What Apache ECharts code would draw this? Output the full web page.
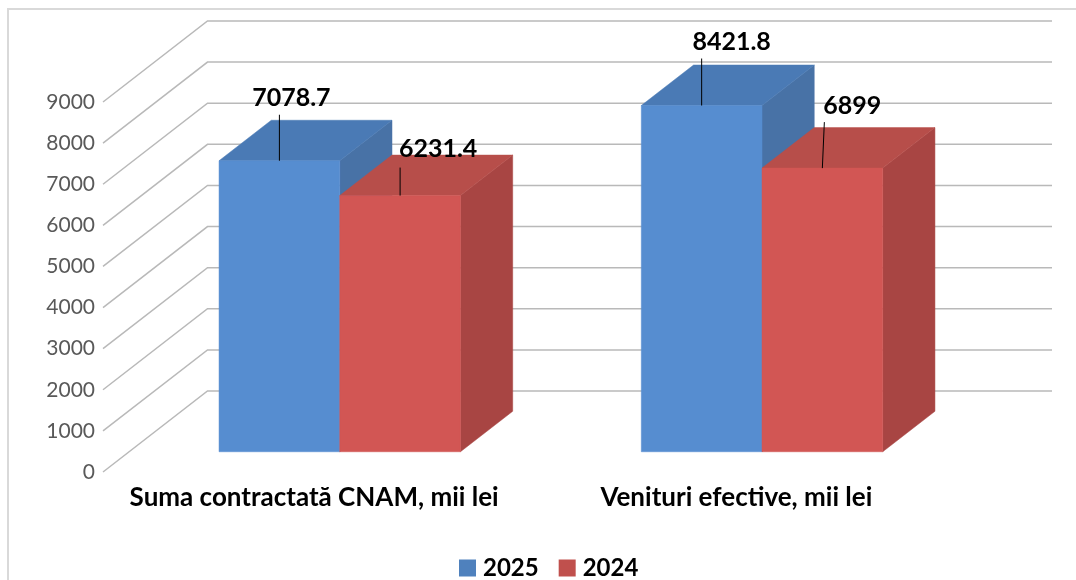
<!DOCTYPE html>
<html>
<head>
<meta charset="utf-8">
<style>
  html, body { margin: 0; padding: 0; background: #fff; }
  #chart { width: 1076px; height: 580px; }
</style>
<script src="https://cdn.jsdelivr.net/npm/echarts@6/dist/echarts.min.js"></script>
</head>
<body>
<div id="chart"></div>
<script>
const categories = ["Suma contractată CNAM, mii lei", "Venituri efective, mii lei"];
const seriesNames = ["2025", "2024"];
const values2025 = [7078.7, 8421.8];
const values2024 = [6231.4, 6899];
const gridValues = [0, 1000, 2000, 3000, 4000, 5000, 6000, 7000, 8000, 9000];

const font = "Lato, Carlito, sans-serif";

// depth of the floor, the bars stand in the middle half of it
const wallDx = 104.5;
const wallDy = -81;
const barW = 120.7;
const depthDx = wallDx / 2;
const depthDy = wallDy / 2;

const blue = { legend: "#4f81bd", front: "#568dd0", top: "#4a7ab5", side: "#4872a6" };
const red = { legend: "#c0504d", front: "#d25654", top: "#b74e4a", side: "#a84543" };

// label centre and leader line top, relative to the bar's front top centre
const labelPos2025 = [
  { dx: 12, dy: -63, lineDx: 0, lineDy: -46 },
  { dx: 30, dy: -64, lineDx: 0, lineDy: -47 },
];
const labelPos2024 = [
  { dx: 38, dy: -47, lineDx: 0, lineDy: -28 },
  { dx: 30, dy: -62, lineDx: 2, lineDy: -46 },
];

function poly(points, fill) {
  // thin stroke in the same colour closes the seams between faces
  return { type: "polygon", shape: { points }, style: { fill, stroke: fill, lineWidth: 0.5 } };
}

function barRenderer(colors, side, labelPos) {
  return (params, api) => {
    const c = api.coord([api.value(0), 0]);
    const t = api.coord([api.value(0), api.value(1)]);
    // front face sits a quarter of the way into the floor
    const x0 = c[0] + wallDx / 4 - 0.5 + (side < 0 ? -barW : 0);
    const x1 = x0 + barW;
    const y0 = c[1] + wallDy / 4;
    const y1 = t[1] + wallDy / 4;
    const cx = (x0 + x1) / 2;
    const pos = labelPos[params.dataIndex];
    return {
      type: "group",
      children: [
        poly([[x1, y0], [x1 + depthDx, y0 + depthDy], [x1 + depthDx, y1 + depthDy], [x1, y1]], colors.side),
        poly([[x0, y1], [x1, y1], [x1 + depthDx, y1 + depthDy], [x0 + depthDx, y1 + depthDy]], colors.top),
        poly([[x0, y0], [x1, y0], [x1, y1], [x0, y1]], colors.front),
        {
          type: "line",
          shape: { x1: cx, y1: y1, x2: cx + pos.lineDx, y2: y1 + pos.lineDy },
          style: { stroke: "#000", lineWidth: 1 },
        },
        {
          type: "text",
          style: {
            x: cx + pos.dx,
            y: y1 + pos.dy,
            text: String(api.value(1)),
            align: "center",
            verticalAlign: "middle",
            font: "bold 25px " + font,
            fill: "#000",
          },
        },
      ],
    };
  };
}

function gridRenderer(params, api) {
  const y = api.coord([0, api.value(0)])[1];
  const left = params.coordSys.x;
  const right = left + params.coordSys.width;
  return {
    type: "polyline",
    shape: { points: [[left, y], [left + wallDx, y + wallDy], [right + wallDx, y + wallDy]] },
    style: { fill: "none", stroke: "#b9b9b9", lineWidth: 1.5 },
  };
}

const chart = echarts.init(document.getElementById("chart"), null, { renderer: "canvas" });
chart.setOption({
  animation: false,
  backgroundColor: "#fff",
  graphic: [
    {
      type: "polyline",
      shape: { points: [[8, 580], [8, 9], [1076, 9]] },
      style: { fill: "none", stroke: "#d9d9d9", lineWidth: 2 },
      silent: true,
    },
  ],
  grid: { left: 103, top: 102, width: 844.5, bottom: 108 },
  xAxis: {
    type: "category",
    data: categories,
    axisLine: { show: false },
    axisTick: { show: false },
    axisLabel: { color: "#000", fontFamily: font, fontWeight: "bold", fontSize: 26, margin: 13, interval: 0 },
  },
  yAxis: {
    type: "value",
    min: 0,
    max: 9000,
    interval: 1000,
    axisLine: { show: false },
    axisTick: { show: false },
    splitLine: { show: false },
    axisLabel: {
      color: "#595959",
      fontFamily: font,
      fontSize: 21,
      margin: 8,
      padding: [3, 0, 0, 0],
      formatter: (v) => String(v),
      verticalAlignMinLabel: "middle",
      verticalAlignMaxLabel: "middle",
    },
  },
  legend: {
    data: seriesNames,
    left: 454,
    top: 551,
    icon: "rect",
    itemWidth: 17,
    itemHeight: 17,
    itemGap: 20,
    textStyle: { color: "#000", fontFamily: font, fontWeight: "bold", fontSize: 24, padding: [0, 0, 0, 2] },
  },
  series: [
    {
      type: "custom",
      data: gridValues.map((v) => [v]),
      encode: { y: 0 },
      renderItem: gridRenderer,
      silent: true,
      z: 1,
    },
    {
      type: "custom",
      name: seriesNames[0],
      data: values2025.map((v, i) => [i, v]),
      encode: { x: 0, y: 1 },
      itemStyle: { color: blue.legend },
      renderItem: barRenderer(blue, -1, labelPos2025),
      z: 2,
    },
    {
      type: "custom",
      name: seriesNames[1],
      data: values2024.map((v, i) => [i, v]),
      encode: { x: 0, y: 1 },
      itemStyle: { color: red.legend },
      renderItem: barRenderer(red, 1, labelPos2024),
      z: 3,
    },
  ],
});
</script>
</body>
</html>
